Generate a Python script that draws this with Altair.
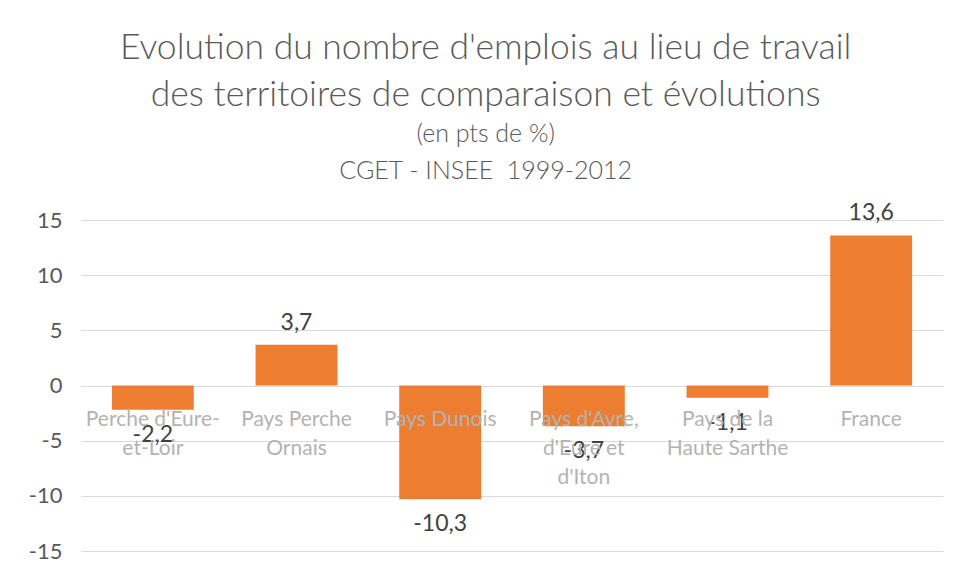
import altair as alt
import pandas as pd

categories = [
    "Perche d'Eure-\net-Loir",
    "Pays Perche\nOrnais",
    "Pays Dunois",
    "Pays d'Avre,\nd'Eure et\nd'Iton",
    "Pays de la\nHaute Sarthe",
    "France",
]
values = [-2.2, 3.7, -10.3, -3.7, -1.1, 13.6]
value_labels = ["-2,2", "3,7", "-10,3", "-3,7", "-1,1", "13,6"]
y_ticks = [-15, -10, -5, 0, 5, 10, 15]

title_lines = [
    "Evolution du nombre d'emplois au lieu de travail",
    "des territoires de comparaison et évolutions",
]
subtitle_lines = ["(en pts de %)", "CGET - INSEE \u00a01999-2012"]

df = pd.DataFrame({"cat": categories, "value": values, "label": value_labels})

FONT = "Lato"
ORANGE = "#ED7D31"

x_enc = alt.X(
    "cat:N",
    sort=categories,
    scale=alt.Scale(paddingInner=0.43, paddingOuter=0.215),
    axis=alt.Axis(
        title=None,
        orient="bottom",
        offset=-165.5,
        labelExpr="split(datum.label, '\\n')",
        labelAngle=0,
        labelColor="#b3b3b3",
        labelFont=FONT,
        labelFontSize=21,
        labelLineHeight=29,
        labelPadding=23,
        labelBaseline="top",
        labelOverlap=False,
        labelLimit=0,
        domain=False,
        ticks=False,
        grid=False,
        zindex=1,
    ),
)

y_enc = alt.Y(
    "value:Q",
    scale=alt.Scale(domain=[-15, 15], nice=False, zero=True),
    axis=alt.Axis(
        title=None,
        values=y_ticks,
        labelExpr="'' + datum.value",
        domain=False,
        ticks=False,
        gridColor="#d9d9d9",
        gridWidth=1,
        labelColor="#595959",
        labelFont=FONT,
        labelFontSize=22,
        labelPadding=19,
    ),
)

base = alt.Chart(df)

bars = base.mark_bar(color=ORANGE).encode(x=x_enc, y=y_enc)

pos_text = (
    base.transform_filter("datum.value >= 0")
    .mark_text(dy=-22, baseline="middle", font=FONT, fontSize=23, color="#404040")
    .encode(x=alt.X("cat:N", sort=categories), y="value:Q", text="label:N")
)
neg_text = (
    base.transform_filter("datum.value < 0")
    .mark_text(dy=25, baseline="middle", font=FONT, fontSize=23, color="#404040")
    .encode(x=alt.X("cat:N", sort=categories), y="value:Q", text="label:N")
)

chart = (
    alt.layer(bars, pos_text, neg_text)
    .properties(
        width=862,
        height=331,
        background="white",
        autosize=alt.AutoSizeParams(type="none"),
        padding={"left": 73, "top": 212, "right": 6, "bottom": 20},
        title=alt.TitleParams(
            text=title_lines,
            subtitle=subtitle_lines,
            font=FONT,
            fontSize=35.5,
            fontWeight=300,
            color="#595959",
            lineHeight=47,
            subtitleFont=FONT,
            subtitleFontSize=25,
            subtitleFontWeight=300,
            subtitleColor="#595959",
            subtitleLineHeight=37,
            subtitlePadding=9,
            anchor="middle",
            frame="bounds",
            offset=18,
        ),
    )
    .configure_view(strokeWidth=0, stroke="transparent")
)

chart.save("out.html", embed_options={"renderer": "svg", "actions": False})
